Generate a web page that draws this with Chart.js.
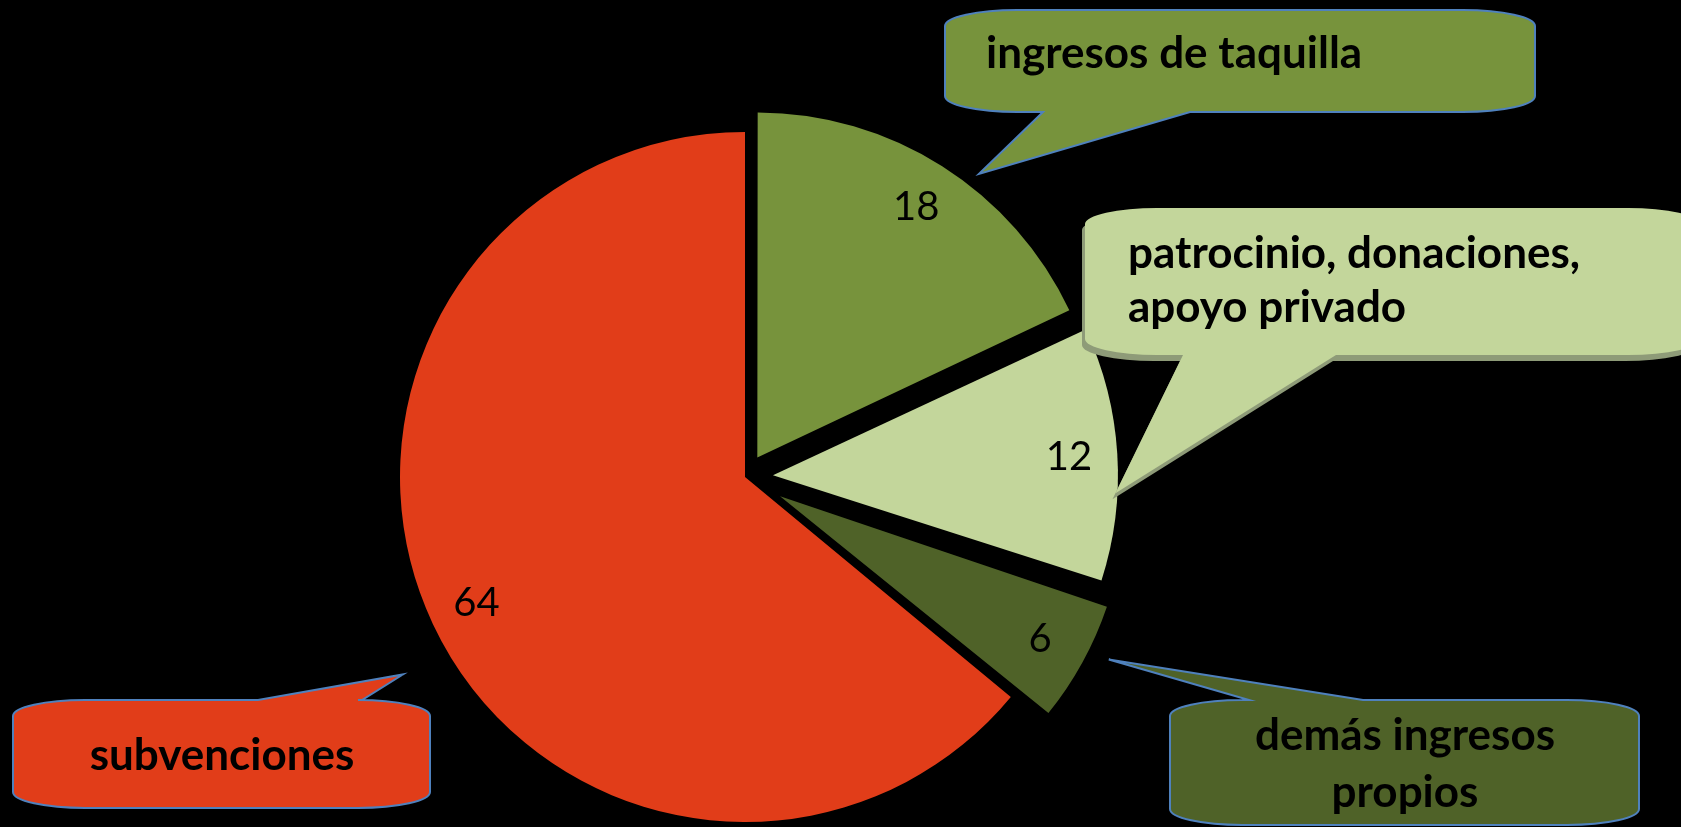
<!DOCTYPE html>
<html>
<head>
<meta charset="utf-8">
<script src="https://cdn.jsdelivr.net/npm/chart.js@4.4.1/dist/chart.umd.min.js"></script>
<style>
  html, body { margin: 0; padding: 0; background: #000; overflow: hidden; }
  #wrap { width: 1681px; height: 827px; position: relative; }
</style>
</head>
<body>
<div id="wrap"><canvas id="myChart"></canvas></div>
<script>
var categories = [["ingresos de taquilla"], ["patrocinio, donaciones,", "apoyo privado"], ["demás ingresos", "propios"], ["subvenciones"]];
var values = [18, 12, 6, 64];

var sliceColors = ["#77933C", "#C3D69B", "#4F6228", "#E13D19"];
var sliceOffsets = [92, 112, 160, 0]; // chart.js moves a slice by offset / 4
var pieRadius = 345;

// speech bubbles: box = [x0, y0, x1, y1], tail on top or bottom edge, tip placed by angle/distance from the slice apex
var callouts = [
  { box: [945, 10, 1535, 112], edge: "bottom", base: [1043, 1190], tipAngle: 38, tipDist: 360, fill: "#77933C", stroke: "#4F81BD", align: "left", textX: 986, lines: [68] },
  { box: [1085, 208, 1700, 355], edge: "bottom", base: [1183, 1336], tipAngle: 93, tipDist: 343, fill: "#C3D69B", stroke: null, shadow: "#8E9B78", align: "left", textX: 1128, lines: [268, 322] },
  { box: [1170, 700, 1639, 825], edge: "top", base: [1249, 1363], tipAngle: 116.4, tipDist: 367, fill: "#4F6228", stroke: "#4F81BD", align: "center", textX: 1405, lines: [750, 807] },
  { box: [13, 700, 430, 808], edge: "top", base: [258, 362], tipAngle: 240, tipDist: 395, fill: "#E13D19", stroke: "#4F81BD", align: "center", textX: 222, lines: [770] },
];

function apex(arc, i) {
  var mid = (arc.startAngle + arc.endAngle) / 2;
  var off = sliceOffsets[i] / 4;
  return { x: arc.x + Math.cos(mid) * off, y: arc.y + Math.sin(mid) * off, mid: mid };
}

// keep every slice at the same radius (chart.js grows small offset slices)
var fixRadius = {
  id: "fixRadius",
  beforeDatasetsDraw: function (chart) {
    chart.getDatasetMeta(0).data.forEach(function (arc, i) {
      var fix = 1 - Math.sin(Math.min(Math.PI, arc.circumference));
      arc.outerRadius = pieRadius - (sliceOffsets[i] / 4) * fix;
    });
  },
};

var sliceLabels = {
  id: "sliceLabels",
  afterDatasetsDraw: function (chart) {
    var c = chart.ctx;
    c.save();
    c.font = "40px Lato";
    c.fillStyle = "#000";
    c.textAlign = "center";
    c.textBaseline = "middle";
    chart.getDatasetMeta(0).data.forEach(function (arc, i) {
      var a = apex(arc, i);
      var r = pieRadius * 0.86;
      c.fillText(String(values[i]), a.x + Math.cos(a.mid) * r, a.y + Math.sin(a.mid) * r);
    });
    c.restore();
  },
};

function bubblePath(c, b, tip) {
  var x0 = b.box[0], y0 = b.box[1], x1 = b.box[2], y1 = b.box[3];
  var rx = 72, ry = 16;
  c.beginPath();
  c.moveTo(x0 + rx, y0);
  if (b.edge === "top") {
    c.lineTo(b.base[0], y0);
    c.lineTo(tip.x, tip.y);
    c.lineTo(b.base[1], y0);
  }
  c.lineTo(x1 - rx, y0);
  c.ellipse(x1 - rx, y0 + ry, rx, ry, 0, -Math.PI / 2, 0);
  c.lineTo(x1, y1 - ry);
  c.ellipse(x1 - rx, y1 - ry, rx, ry, 0, 0, Math.PI / 2);
  if (b.edge === "bottom") {
    c.lineTo(b.base[1], y1);
    c.lineTo(tip.x, tip.y);
    c.lineTo(b.base[0], y1);
  }
  c.lineTo(x0 + rx, y1);
  c.ellipse(x0 + rx, y1 - ry, rx, ry, 0, Math.PI / 2, Math.PI);
  c.lineTo(x0, y0 + ry);
  c.ellipse(x0 + rx, y0 + ry, rx, ry, 0, Math.PI, Math.PI * 1.5);
  c.closePath();
}

var calloutPlugin = {
  id: "callouts",
  afterDraw: function (chart) {
    var c = chart.ctx;
    var arcs = chart.getDatasetMeta(0).data;
    c.save();
    callouts.forEach(function (b, i) {
      var a = apex(arcs[i], i);
      var ang = (b.tipAngle - 90) * Math.PI / 180;
      var tip = { x: a.x + Math.cos(ang) * b.tipDist, y: a.y + Math.sin(ang) * b.tipDist };
      if (b.shadow) {
        c.save();
        c.translate(-3, 6);
        bubblePath(c, b, tip);
        c.fillStyle = b.shadow;
        c.fill();
        c.restore();
      }
      bubblePath(c, b, tip);
      c.fillStyle = b.fill;
      c.fill();
      if (b.stroke) {
        c.lineWidth = 2;
        c.strokeStyle = b.stroke;
        c.stroke();
      }
      c.font = "bold 44px Lato";
      c.fillStyle = "#000";
      c.textAlign = b.align;
      c.textBaseline = "alphabetic";
      categories[i].forEach(function (line, k) {
        c.fillText(line, b.textX, b.lines[k]);
      });
    });
    c.restore();
  },
};

var ctx = document.getElementById("myChart").getContext("2d");
var myChart = new Chart(ctx, {
  type: "pie",
  data: {
    labels: categories,
    datasets: [
      {
        data: values,
        backgroundColor: sliceColors,
        offset: sliceOffsets,
        borderWidth: 0,
      },
    ],
  },
  options: {
    responsive: true,
    maintainAspectRatio: false,
    animation: false,
    radius: pieRadius,
    layout: { padding: { left: 0, right: 191, top: 127, bottom: 0 } },
    plugins: {
      legend: { display: false },
      tooltip: { enabled: false },
    },
  },
  plugins: [fixRadius, sliceLabels, calloutPlugin],
});
</script>
</body>
</html>
